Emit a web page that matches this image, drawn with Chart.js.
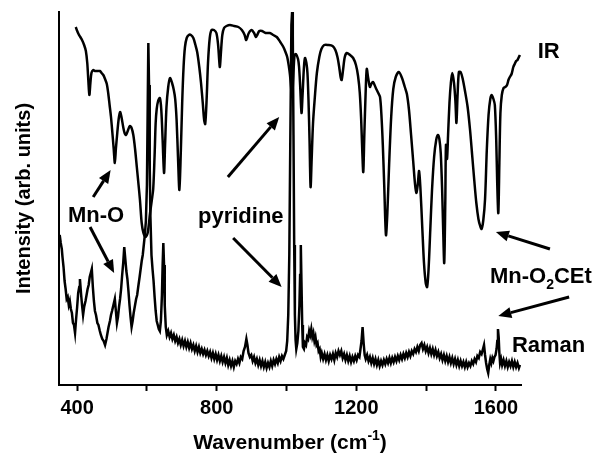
<!DOCTYPE html>
<html>
<head>
<meta charset="utf-8">
<script src="https://cdn.jsdelivr.net/npm/chart.js@4.4.1/dist/chart.umd.min.js"></script>
<style>
  html, body { margin: 0; padding: 0; background: #fff; }
  #wrap { width: 594px; height: 462px; }
</style>
</head>
<body>
<div id="wrap"><canvas id="myChart"></canvas></div>
<script>
// wavenumber (cm-1), intensity (arb. units)
const irSpectrum = [
  [396,358],[399,355],[404,351],[409,348],[414,345],[420,340],[425,334],[429,322],[432,305],[435,290],
  [438,302],[441,312],[446,315],[451,314],[458,314],[465,314],[470,312],[475,310],[480,306],[485,301],
  [489,292],[493,280],[497,268],[501,252],[505,235],[508,222],[511,236],[515,252],[519,266],[523,273],
  [527,268],[532,258],[536,252],[540,250],[545,254],[551,259],[556,257],[561,250],[566,236],[571,218],
  [576,200],[580,185],[585,162],[590,152],[596,148],[602,152],[609,172],[614,185],[618,196],[622,230],
  [625,262],[628,276],[632,284],[637,287],[641,276],[645,245],[649,212],[652,240],[656,278],[661,298],
  [666,307],[672,302],[677,295],[681,286],[685,265],[689,228],[693,195],[697,232],[701,282],[705,318],
  [709,338],[714,347],[720,350],[726,350],[733,347],[739,340],[744,333],[750,318],[755,302],[760,282],
  [764,265],[767,261],[771,285],[775,322],[780,347],[785,355],[792,355],[799,352],[804,340],[807,325],
  [809,318],[812,332],[816,350],[821,357],[828,359],[838,360],[850,359],[862,358],[872,355],[880,350],
  [884,345],[887,347],[892,352],[900,355],[907,352],[912,348],[916,350],[922,354],[930,354],[940,352],
  [952,352],[962,350],[972,348],[982,343],[991,338],[997,333],[1002,328],[1007,318],[1010,310],[1013,298],
  [1016,288],[1019,305],[1023,330],[1027,331],[1033,326],[1036,318],[1039,300],[1043,272],[1046,290],[1050,318],
  [1053,327],[1057,322],[1060,312],[1063,285],[1066,245],[1069,198],[1072,225],[1076,262],[1081,287],[1087,312],
  [1094,328],[1100,336],[1108,340],[1120,340],[1132,339],[1140,335],[1146,328],[1151,318],[1155,308],[1158,305],
  [1162,315],[1167,328],[1173,332],[1182,330],[1191,327],[1199,320],[1205,309],[1210,292],[1214,265],[1217,235],
  [1220,213],[1223,250],[1227,295],[1230,316],[1234,307],[1239,298],[1243,301],[1248,303],[1256,297],[1263,292],
  [1268,288],[1272,270],[1276,240],[1280,200],[1285,150],[1289,172],[1294,220],[1300,268],[1306,296],[1313,308],
  [1322,313],[1331,307],[1339,298],[1345,291],[1351,275],[1357,250],[1363,224],[1368,202],[1372,192],[1376,200],
  [1380,214],[1384,195],[1389,158],[1394,122],[1399,102],[1403,98],[1407,115],[1412,155],[1417,195],[1423,228],
  [1429,245],[1434,250],[1438,246],[1442,232],[1446,195],[1449,155],[1452,122],[1455,182],[1457,240],[1460,226],
  [1463,250],[1467,282],[1471,302],[1475,312],[1480,302],[1484,284],[1487,262],[1490,288],[1494,313],[1499,313],
  [1505,306],[1512,293],[1519,278],[1526,255],[1532,230],[1538,205],[1544,182],[1550,166],[1555,159],[1559,156],
  [1564,165],[1569,186],[1574,235],[1579,270],[1584,286],[1588,290],[1593,286],[1597,280],[1601,245],[1604,200],
  [1607,172],[1610,222],[1613,272],[1617,290],[1622,297],[1627,298],[1632,300],[1636,305],[1640,308],[1645,311],
  [1650,318],[1654,321],[1658,324],[1662,325],[1666,328],[1669,330]
];

const ramanSpectrum = [
  [350,150],[353,142],[356,136],[358,128],[361,118],[364,104],[367,96],[370,86],[373,88],[376,80],
  [379,84],[382,76],[385,72],[388,62],[391,60],[394,52],[397,66],[400,78],[403,92],[406,98],
  [408,106],[411,92],[414,80],[417,70],[420,78],[424,84],[427,90],[430,96],[433,100],[436,108],
  [439,112],[442,116],[445,98],[448,84],[451,74],[454,70],[458,62],[461,60],[465,54],[468,50],
  [472,46],[476,44],[480,40],[484,46],[487,52],[490,58],[494,64],[497,70],[500,74],[504,80],
  [508,86],[511,74],[514,62],[517,68],[520,78],[523,86],[526,96],[529,110],[532,122],[535,138],
  [538,126],[541,114],[544,106],[547,94],[550,80],[553,68],[556,58],[559,64],[562,72],[566,80],
  [569,86],[572,90],[575,98],[579,108],[582,116],[585,124],[588,130],[591,140],[594,150],[597,164],
  [600,200],[602,270],[604,342],[606,300],[608,220],[610,168],[613,130],[616,116],[619,104],[622,88],
  [625,74],[628,64],[631,60],[634,56],[637,54],[640,64],[643,90],[645,120],[647,142],[649,120],
  [651,80],[654,58],[657,50],[661,54],[665,48],[669,52],[673,46],[677,50],[681,44],[685,48],
  [689,42],[693,46],[697,40],[701,45],[705,39],[709,44],[713,38],[717,43],[721,37],[725,42],
  [729,36],[733,40],[737,34],[741,39],[745,33],[749,38],[753,32],[757,36],[761,31],[765,35],
  [769,30],[773,34],[777,29],[781,33],[785,27],[789,32],[793,26],[797,31],[801,25],[805,30],
  [809,24],[813,29],[817,23],[821,28],[825,22],[829,27],[833,20],[837,25],[841,19],[845,24],
  [849,18],[853,24],[857,21],[861,26],[865,22],[869,28],[873,26],[877,34],[881,38],[885,46],
  [888,40],[891,32],[895,28],[899,30],[903,24],[907,28],[911,22],[915,26],[919,20],[923,25],
  [927,19],[931,24],[935,18],[939,23],[943,17],[947,22],[951,18],[955,24],[959,19],[963,25],
  [967,21],[971,26],[975,22],[979,28],[983,24],[987,29],[991,26],[995,30],[999,34],[1002,44],
  [1005,70],[1008,130],[1011,250],[1014,360],[1016,373],[1018,350],[1020,250],[1022,140],[1024,70],[1026,45],
  [1028,36],[1031,42],[1034,54],[1037,80],[1039,110],[1041,140],[1043,100],[1045,60],[1047,38],[1050,36],
  [1053,42],[1056,40],[1059,48],[1062,46],[1065,54],[1068,50],[1071,56],[1074,48],[1077,52],[1080,44],
  [1083,48],[1086,40],[1089,42],[1092,34],[1095,36],[1098,28],[1101,32],[1105,26],[1109,31],[1113,25],
  [1117,30],[1121,24],[1125,30],[1129,26],[1133,31],[1137,25],[1141,32],[1145,28],[1149,34],[1153,30],
  [1157,34],[1161,27],[1165,31],[1169,25],[1173,30],[1177,24],[1181,29],[1185,23],[1189,28],[1193,24],
  [1197,29],[1201,25],[1205,30],[1209,28],[1212,36],[1215,44],[1218,58],[1221,42],[1224,30],[1227,26],
  [1231,30],[1235,24],[1239,28],[1243,22],[1247,27],[1251,21],[1255,26],[1259,20],[1263,25],[1267,19],
  [1271,24],[1275,20],[1279,25],[1283,21],[1287,26],[1291,22],[1295,27],[1299,22],[1303,27],[1307,23],
  [1311,28],[1315,24],[1319,29],[1323,25],[1327,30],[1331,26],[1335,31],[1339,27],[1343,32],[1347,28],
  [1351,33],[1355,29],[1359,34],[1363,31],[1367,36],[1371,33],[1375,38],[1379,34],[1383,40],[1387,42],
  [1391,36],[1395,40],[1399,34],[1403,38],[1407,32],[1411,37],[1415,31],[1419,36],[1423,30],[1427,35],
  [1431,29],[1435,33],[1439,27],[1443,31],[1447,25],[1451,30],[1455,24],[1459,29],[1463,23],[1467,28],
  [1471,22],[1475,27],[1479,21],[1483,26],[1487,20],[1491,25],[1495,19],[1499,24],[1503,19],[1507,23],
  [1511,18],[1515,23],[1519,18],[1523,22],[1527,19],[1531,24],[1535,21],[1539,26],[1543,23],[1547,29],
  [1551,27],[1555,33],[1559,31],[1563,36],[1566,40],[1569,30],[1572,22],[1575,16],[1578,12],[1581,20],
  [1584,26],[1587,22],[1590,27],[1593,24],[1596,28],[1599,30],[1602,36],[1604,44],[1606,56],[1608,48],
  [1610,32],[1612,22],[1615,26],[1618,20],[1622,25],[1626,19],[1630,24],[1634,18],[1638,23],[1642,19],
  [1646,24],[1650,18],[1654,23],[1658,18],[1662,22],[1666,17],[1669,20]
];

const xTickLabels = [400, 800, 1200, 1600];
const xRange = [348, 1672];

const FONT = '"Liberation Sans", Arial, Helvetica, sans-serif';

function arrow(ctx, x0, y0, x1, y1) {
  const a = Math.atan2(y1 - y0, x1 - x0);
  const len = 13, half = 5.5;
  const bx = x1 - len * Math.cos(a), by = y1 - len * Math.sin(a);
  ctx.beginPath();
  ctx.moveTo(x0, y0);
  ctx.lineTo(bx, by);
  ctx.stroke();
  ctx.beginPath();
  ctx.moveTo(x1, y1);
  ctx.lineTo(bx + half * Math.sin(a), by - half * Math.cos(a));
  ctx.lineTo(bx - half * Math.sin(a), by + half * Math.cos(a));
  ctx.closePath();
  ctx.fill();
}

const notes = {
  id: 'notes',
  afterDraw(chart) {
    const {ctx, scales: {x, y}} = chart;
    const X = v => x.getPixelForValue(v), Y = v => y.getPixelForValue(v);
    ctx.save();
    ctx.fillStyle = '#000';
    ctx.strokeStyle = '#000';
    ctx.lineWidth = 3;
    ctx.textBaseline = 'alphabetic';
    ctx.font = 'bold 22px ' + FONT;

    ctx.textAlign = 'left';
    ctx.fillText('IR', X(1720), Y(327));
    ctx.fillText('Raman', X(1646), Y(33));
    ctx.textAlign = 'center';
    ctx.fillText('Mn-O', X(454), Y(163));
    ctx.fillText('pyridine', X(869), Y(162));

    // Mn-O2CEt with subscript
    ctx.textAlign = 'left';
    let tx = X(1583), ty = Y(102);
    ctx.fillText('Mn-O', tx, ty);
    tx += ctx.measureText('Mn-O').width;
    ctx.font = 'bold 14px ' + FONT;
    ctx.fillText('2', tx, ty + 6);
    tx += ctx.measureText('2').width;
    ctx.font = 'bold 22px ' + FONT;
    ctx.fillText('CEt', tx, ty);

    arrow(ctx, X(446), Y(188), X(496), Y(215));
    arrow(ctx, X(437), Y(158), X(506), Y(112));
    arrow(ctx, X(832), Y(208), X(979), Y(268));
    arrow(ctx, X(847), Y(147), X(986), Y(98));
    arrow(ctx, X(1755), Y(136), X(1600), Y(153));
    arrow(ctx, X(1810), Y(88), X(1607), Y(69));

    // x axis title with superscript
    const big = 'bold 21px ' + FONT, small = 'bold 14px ' + FONT;
    ctx.font = big;
    const main = 'Wavenumber (cm', sup = '-1', close = ')';
    const wMain = ctx.measureText(main).width;
    ctx.font = small;
    const wSup = ctx.measureText(sup).width;
    ctx.font = big;
    const wClose = ctx.measureText(close).width;
    let cx = (chart.chartArea.left + chart.chartArea.right) / 2 - (wMain + wSup + wClose) / 2;
    const cy = 449;
    ctx.fillText(main, cx, cy);
    cx += wMain;
    ctx.font = small;
    ctx.fillText(sup, cx, cy - 9);
    cx += wSup;
    ctx.font = big;
    ctx.fillText(close, cx, cy);
    ctx.restore();
  }
};

new Chart('myChart', {
  type: 'line',
  data: {
    datasets: [{
      label: 'IR',
      data: irSpectrum.map(p => ({x: p[0], y: p[1]})),
      borderColor: '#000',
      borderWidth: 2.5,
      pointRadius: 0,
      tension: 0.3,
      fill: false
    }, {
      label: 'Raman',
      data: ramanSpectrum.map(p => ({x: p[0], y: p[1]})),
      borderColor: '#000',
      borderWidth: 2.5,
      pointRadius: 0,
      tension: 0,
      fill: false
    }]
  },
  options: {
    responsive: true,
    maintainAspectRatio: false,
    animation: false,
    layout: {padding: {left: 0, right: 73, top: 12, bottom: 0}},
    plugins: {legend: {display: false}, tooltip: {enabled: false}},
    scales: {
      x: {
        type: 'linear',
        min: xRange[0],
        max: xRange[1],
        afterBuildTicks: s => { s.ticks = [400, 600, 800, 1000, 1200, 1400, 1600].map(v => ({value: v})); },
        afterFit: s => { s.height = 77; },
        border: {display: true, color: '#000', width: 2},
        grid: {display: true, drawOnChartArea: false, drawTicks: true, tickLength: 6, tickColor: '#000', tickWidth: 2},
        ticks: {
          color: '#000',
          padding: 5,
          maxRotation: 0,
          font: {family: FONT, size: 20, weight: 'bold'},
          callback: v => xTickLabels.includes(v) ? String(v) : ''
        }
      },
      y: {
        min: 0,
        max: 373,
        afterFit: s => { s.width = 59; },
        border: {display: true, color: '#000', width: 2},
        grid: {display: false},
        ticks: {display: false},
        title: {
          display: true,
          text: 'Intensity (arb. units)',
          color: '#000',
          padding: {top: 12, bottom: 0},
          font: {family: FONT, size: 20, weight: 'bold'}
        }
      }
    }
  },
  plugins: [notes]
});
</script>
</body>
</html>
